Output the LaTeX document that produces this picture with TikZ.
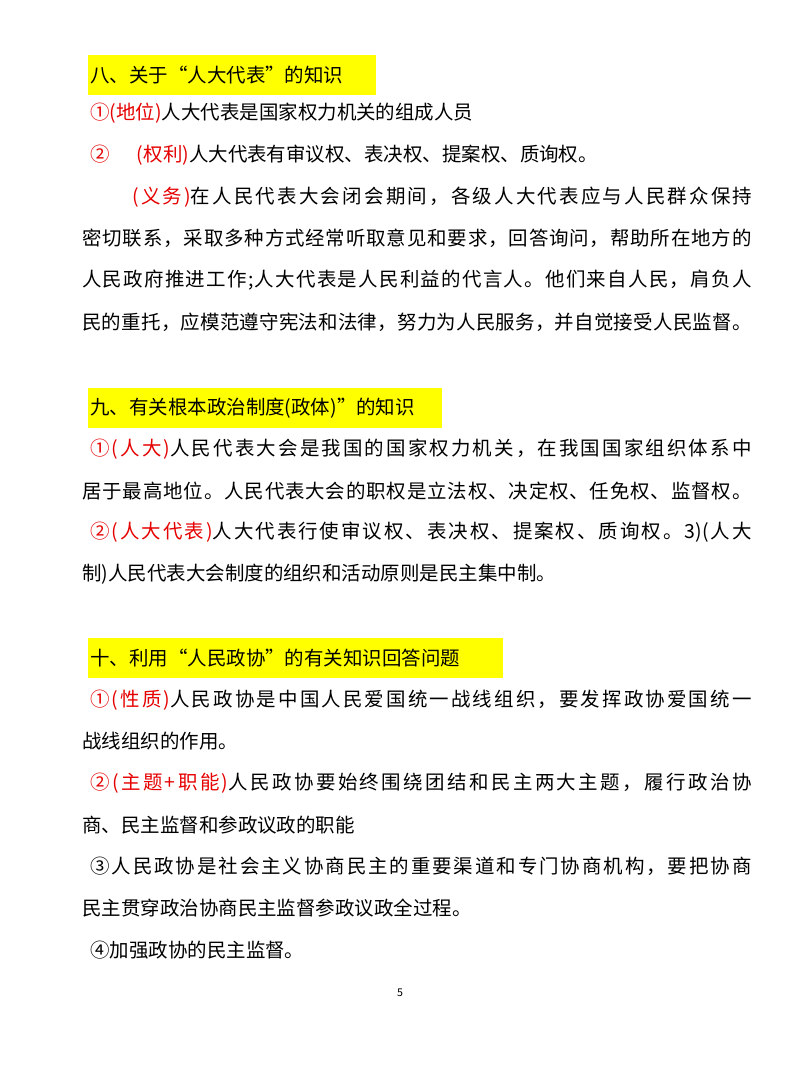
\documentclass[tikz,border=0pt]{standalone}
\usepackage{fontspec}
\setmainfont{Noto Sans CJK SC}
\XeTeXinterchartokenstate=1
\newcount\cc
\cc="3000 \loop \XeTeXcharclass\cc=1 \advance\cc by 1 \ifnum\cc<"3040 \repeat
\cc="4E00 \loop \XeTeXcharclass\cc=1 \advance\cc by 1 \ifnum\cc<"A000 \repeat
\cc="FF00 \loop \XeTeXcharclass\cc=1 \advance\cc by 1 \ifnum\cc<"FF70 \repeat
\XeTeXcharclass"2460=1 \XeTeXcharclass"2461=1 \XeTeXcharclass"2462=1 \XeTeXcharclass"2463=1
\XeTeXcharclass"201C=1 \XeTeXcharclass"201D=1
\XeTeXinterchartoks 1 1 = {\hskip 0pt plus 1fil\relax}
\XeTeXinterchartoks 1 0 = {\hskip 0pt plus 1fil\relax}
\XeTeXinterchartoks 0 1 = {\hskip 0pt plus 1fil\relax}
\definecolor{rd}{RGB}{230,0,0}
\definecolor{hl}{RGB}{255,255,0}
\newcommand{\R}[1]{\textcolor{rd}{#1}}
\newcommand{\J}[2]{\makebox[#1][s]{#2}}
\begin{document}
\begin{tikzpicture}[x=0.75pt,y=-0.75pt,
  ln/.style={anchor=west,inner sep=0pt,font=\fontsize{14.6pt}{18pt}\selectfont}]
\useasboundingbox (0,0) rectangle (800,1067);
\fill[white] (0,0) rectangle (800,1067);
\fill[hl] (88,55) rectangle (376,95);
\fill[hl] (88,388) rectangle (442,428);
\fill[hl] (88,638) rectangle (503,678);
\node[ln] (h8) at (90,75) {八、关于“人大代表”的知识};
\node[ln] (a1) at (90,113) {\R{①(地位)}人大代表是国家权力机关的组成人员};
\node[ln] (a2) at (90,155) {\R{②\hspace{1.4em}(权利)}人大代表有审议权、表决权、提案权、质询权。};
\node[ln] (a3) at (132,197) {\J{465pt}{\R{(义务)}在人民代表大会闭会期间，各级人大代表应与人民群众保持}};
\node[ln] (a4) at (82,238) {\J{502pt}{密切联系，采取多种方式经常听取意见和要求，回答询问，帮助所在地方的}};
\node[ln] (a5) at (82,280) {\J{502pt}{人民政府推进工作;人大代表是人民利益的代言人。他们来自人民，肩负人}};
\node[ln] (a6) at (82,322) {\J{502pt}{民的重托，应模范遵守宪法和法律，努力为人民服务，并自觉接受人民监督。}};
\node[ln] (h9) at (90,408) {九、有关根本政治制度(政体)\char"0022的知识};
\node[ln] (b1) at (90,449) {\J{496pt}{\R{①(人大)}人民代表大会是我国的国家权力机关，在我国国家组织体系中}};
\node[ln] (b2) at (82,491) {\J{502pt}{居于最高地位。人民代表大会的职权是立法权、决定权、任免权、监督权。}};
\node[ln] (b3) at (90,532) {\J{496pt}{\R{②(人大代表)}人大代表行使审议权、表决权、提案权、质询权。3)(人大}};
\node[ln] (b4) at (82,574) {制)人民代表大会制度的组织和活动原则是民主集中制。};
\node[ln] (h10) at (90,658) {十、利用“人民政协”的有关知识回答问题};
\node[ln] (c1) at (90,700) {\J{496pt}{\R{①(性质)}人民政协是中国人民爱国统一战线组织，要发挥政协爱国统一}};
\node[ln] (c2) at (82,741) {战线组织的作用。};
\node[ln] (c3) at (90,783) {\J{496pt}{\R{②(主题+职能)}人民政协要始终围绕团结和民主两大主题，履行政治协}};
\node[ln] (c4) at (82,825) {商、民主监督和参政议政的职能};
\node[ln] (c5) at (90,866) {\J{496pt}{③人民政协是社会主义协商民主的重要渠道和专门协商机构，要把协商}};
\node[ln] (c6) at (82,908) {民主贯穿政治协商民主监督参政议政全过程。};
\node[ln] (c7) at (90,950) {④加强政协的民主监督。};
\node[inner sep=0pt,font=\fontsize{8pt}{9pt}\selectfont] (pg) at (400,993) {5};
\end{tikzpicture}
\end{document}
